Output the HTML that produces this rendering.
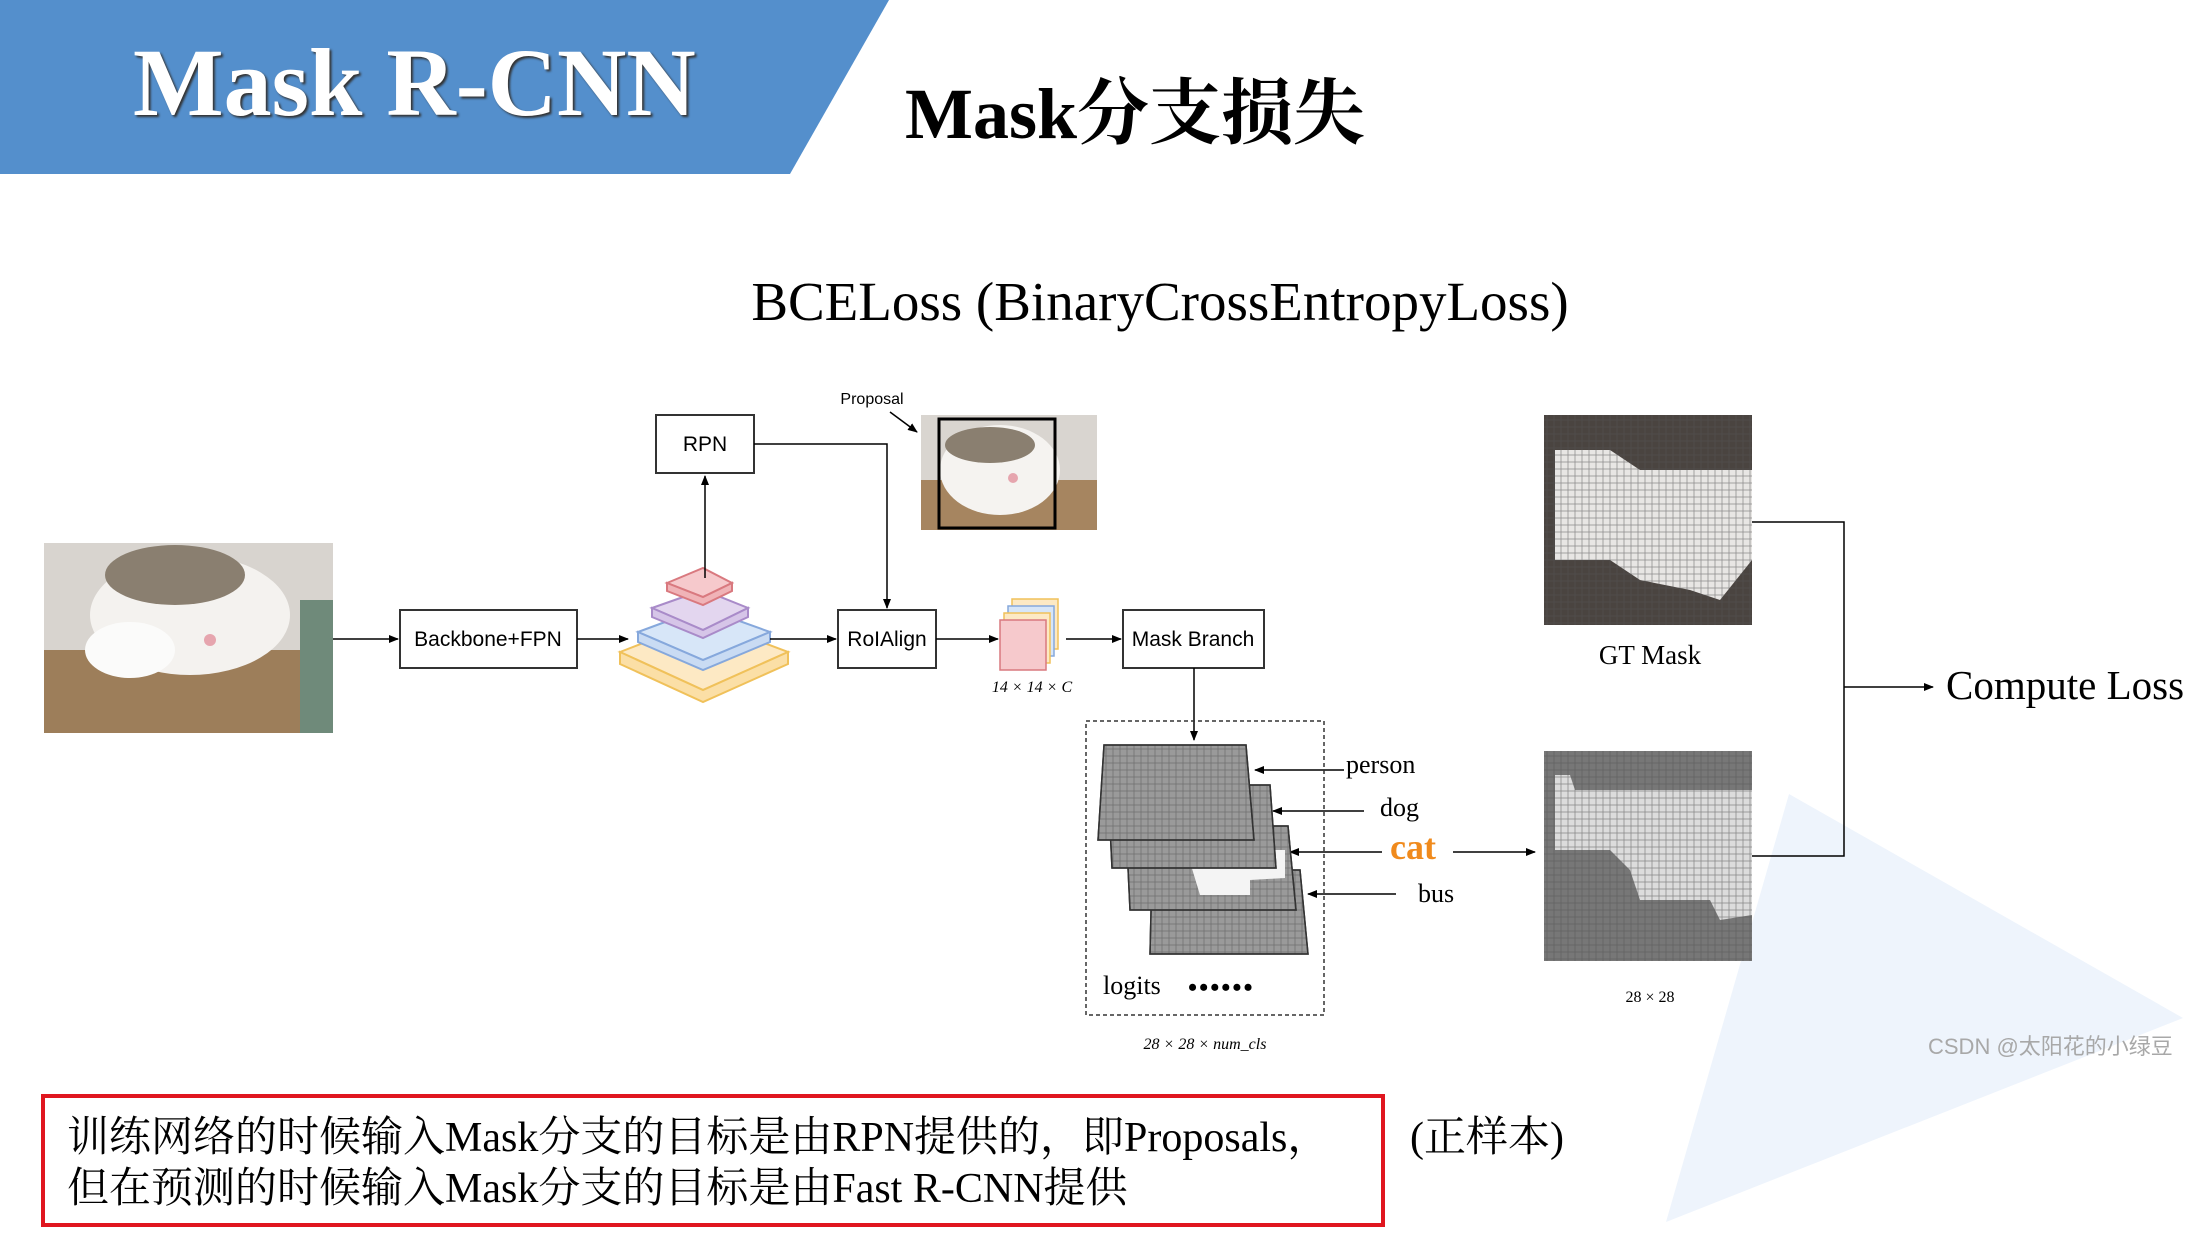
<!DOCTYPE html>
<html><head><meta charset="utf-8"><style>
html,body{margin:0;padding:0;background:#fff;}
svg{display:block;}
.s{font-family:"Liberation Sans","Noto Sans CJK SC",sans-serif;}
.r{font-family:"Liberation Serif","Noto Serif CJK SC",serif;}
</style></head><body>
<svg width="2200" height="1238" viewBox="0 0 2200 1238" xmlns="http://www.w3.org/2000/svg">
<defs>
<pattern id="g" width="7" height="7" patternUnits="userSpaceOnUse"><rect width="7" height="7" fill="none" stroke="#555" stroke-width="0.8" stroke-opacity="0.6"/></pattern>
<marker id="a" markerWidth="10" markerHeight="10" refX="9" refY="5" orient="auto" markerUnits="userSpaceOnUse"><path d="M0,1 L10,5 L0,9 z" fill="#000"/></marker>
</defs>
<polygon points="1789,794 2183,1018 1666,1222" fill="#eef4fc"/>
<polygon points="0,0 889,0 790,174 0,174" fill="#548fcc"/>
<text x="133" y="115" class="r" font-size="96" font-weight="bold" fill="#fff" style="text-shadow:2px 2px 2px #333">Mask R-CNN</text>
<text x="905" y="138" class="r" font-size="72" font-weight="bold" fill="#000">Mask分支损失</text>
<text x="1160" y="320" class="r" font-size="55" fill="#000" text-anchor="middle">BCELoss (BinaryCrossEntropyLoss)</text>

<g>
<rect x="44" y="543" width="289" height="190" fill="#d8d4cf"/>
<rect x="44" y="650" width="289" height="83" fill="#9d7e5a"/>
<ellipse cx="190" cy="615" rx="100" ry="60" fill="#f4f2ef"/>
<ellipse cx="175" cy="575" rx="70" ry="30" fill="#8a7f70"/>
<ellipse cx="130" cy="650" rx="45" ry="28" fill="#fbfbfa"/>
<circle cx="210" cy="640" r="6" fill="#e6a5ae"/>
<rect x="300" y="600" width="33" height="133" fill="#6f8a7a"/>
</g>

<g fill="#fff" stroke="#333" stroke-width="2">
<rect x="400" y="610" width="177" height="58"/>
<rect x="656" y="415" width="98" height="58"/>
<rect x="838" y="610" width="98" height="58"/>
<rect x="1123" y="610" width="141" height="58"/>
</g>
<g class="s" font-size="21" fill="#000" text-anchor="middle">
<text x="488" y="646">Backbone+FPN</text>
<text x="705" y="451">RPN</text>
<text x="887" y="646">RoIAlign</text>
<text x="1193" y="646">Mask Branch</text>
<text x="872" y="404" font-size="16">Proposal</text>
</g>

<g stroke-width="2">
<polygon points="620,652 703,620 788,652 703,690" fill="#fde9c4" stroke="#f0c15a"/>
<polygon points="620,652 620,664 703,702 788,664 788,652 703,690" fill="#fbdfa6" stroke="#f0c15a"/>
<polygon points="638,632 703,608 770,632 703,660" fill="#d7e6f8" stroke="#86a8dc"/>
<polygon points="638,632 638,642 703,670 770,642 770,632 703,660" fill="#c9dbf3" stroke="#86a8dc"/>
<polygon points="652,608 703,590 748,608 703,630" fill="#e3d6ef" stroke="#a98bc9"/>
<polygon points="652,608 652,617 703,638 748,617 748,608 703,630" fill="#d6c5e8" stroke="#a98bc9"/>
<polygon points="667,583 703,568 732,583 703,597" fill="#f6c9cc" stroke="#d9797f"/>
<polygon points="667,583 667,591 703,605 732,591 732,583 703,597" fill="#f0b3b7" stroke="#d9797f"/>
</g>

<rect x="921" y="415" width="176" height="115" fill="#d9d5d0"/>
<rect x="921" y="480" width="176" height="50" fill="#a68560"/>
<ellipse cx="1000" cy="470" rx="60" ry="45" fill="#f5f3f0"/>
<ellipse cx="990" cy="445" rx="45" ry="18" fill="#8a7f70"/>
<circle cx="1013" cy="478" r="5" fill="#e6a5ae"/>
<rect x="939" y="419" width="116" height="109" fill="none" stroke="#000" stroke-width="3"/>

<rect x="1012" y="599" width="46" height="50" fill="#fde9c4" stroke="#f0c15a" stroke-width="1.5"/>
<rect x="1008" y="606" width="46" height="50" fill="#d7e6f8" stroke="#86a8dc" stroke-width="1.5"/>
<rect x="1004" y="613" width="46" height="50" fill="#fde9c4" stroke="#f0c15a" stroke-width="1.5"/>
<rect x="1000" y="620" width="46" height="50" fill="#f6c9cc" stroke="#d9797f" stroke-width="1.5"/>
<text x="1032" y="692" class="r" font-size="16" font-style="italic" text-anchor="middle">14 × 14 × C</text>

<g stroke="#000" stroke-width="1.5" fill="none" marker-end="url(#a)">
<line x1="333" y1="639" x2="398" y2="639"/>
<line x1="577" y1="639" x2="628" y2="639"/>
<line x1="705" y1="578" x2="705" y2="476"/>
<polyline points="754,444 887,444 887,608"/>
<line x1="770" y1="639" x2="836" y2="639"/>
<line x1="936" y1="639" x2="998" y2="639"/>
<line x1="1066" y1="639" x2="1121" y2="639"/>
<line x1="890" y1="412" x2="917" y2="432"/>
<line x1="1194" y1="668" x2="1194" y2="740"/>
<line x1="1344" y1="770" x2="1255" y2="770"/>
<line x1="1364" y1="811" x2="1273" y2="811"/>
<line x1="1382" y1="852" x2="1290" y2="852"/>
<line x1="1396" y1="894" x2="1308" y2="894"/>
<line x1="1453" y1="852" x2="1535" y2="852"/>
<line x1="1844" y1="687" x2="1933" y2="687"/>
</g>
<polyline points="1752,522 1844,522 1844,856 1752,856" stroke="#000" stroke-width="1.5" fill="none"/>

<rect x="1086" y="721" width="238" height="294" fill="none" stroke="#333" stroke-width="1.5" stroke-dasharray="4,3"/>
<g stroke="#333" stroke-width="1.5">
<polygon points="1152,870 1300,870 1308,954 1150,954" fill="#9a9a9a"/><polygon points="1152,870 1300,870 1308,954 1150,954" fill="url(#g)"/>
<polygon points="1126,826 1288,826 1296,910 1130,910" fill="#9a9a9a"/><polygon points="1126,826 1288,826 1296,910 1130,910" fill="url(#g)"/>
<polygon points="1140,850 1285,850 1285,878 1250,880 1250,895 1200,895 1190,862 1150,862" fill="#f4f4f4" stroke="none"/>
<polygon points="1108,785 1270,785 1276,868 1112,868" fill="#9a9a9a"/><polygon points="1108,785 1270,785 1276,868 1112,868" fill="url(#g)"/>
<polygon points="1104,745 1246,745 1254,840 1098,840" fill="#9a9a9a"/><polygon points="1104,745 1246,745 1254,840 1098,840" fill="url(#g)"/>
</g>
<g class="r" font-size="26" fill="#000">
<text x="1346" y="773">person</text>
<text x="1380" y="816">dog</text>
<text x="1390" y="859" fill="#f08a1c" font-weight="bold" font-size="36">cat</text>
<text x="1418" y="902">bus</text>
<text x="1103" y="994">logits</text>
<text x="1188" y="996" font-size="26" font-weight="bold" letter-spacing="2">••••••</text>
</g>
<text x="1205" y="1049" class="r" font-size="16" font-style="italic" text-anchor="middle">28 × 28 × num_cls</text>

<rect x="1544" y="415" width="208" height="210" fill="#4a4440"/>
<polygon points="1555,450 1610,450 1640,470 1752,470 1752,560 1720,600 1690,590 1640,580 1610,560 1555,560" fill="#e8e6e4"/>
<rect x="1544" y="415" width="208" height="210" fill="url(#g)"/>
<text x="1650" y="664" class="r" font-size="27" text-anchor="middle">GT Mask</text>

<rect x="1544" y="751" width="208" height="210" fill="#777"/>
<polygon points="1555,775 1570,775 1575,790 1752,790 1752,915 1720,920 1710,900 1640,900 1630,870 1610,850 1555,850" fill="#dcdcdc"/>
<rect x="1544" y="751" width="208" height="210" fill="url(#g)"/>
<text x="1650" y="1002" class="r" font-size="16" text-anchor="middle">28 × 28</text>

<text x="1946" y="699" class="r" font-size="41" fill="#000">Compute Loss</text>
<text x="1928" y="1054" class="s" font-size="22" fill="#a8a8a8">CSDN @太阳花的小绿豆</text>

<rect x="43" y="1096" width="1340" height="129" fill="none" stroke="#e0161f" stroke-width="4"/>
<g class="r" font-size="42" fill="#000">
<text x="67" y="1151">训练网络的时候输入Mask分支的目标是由RPN提供的，即Proposals，</text>
<text x="67" y="1202">但在预测的时候输入Mask分支的目标是由Fast R-CNN提供</text>
<text x="1410" y="1151">(正样本)</text>
</g>
</svg>
</body></html>
